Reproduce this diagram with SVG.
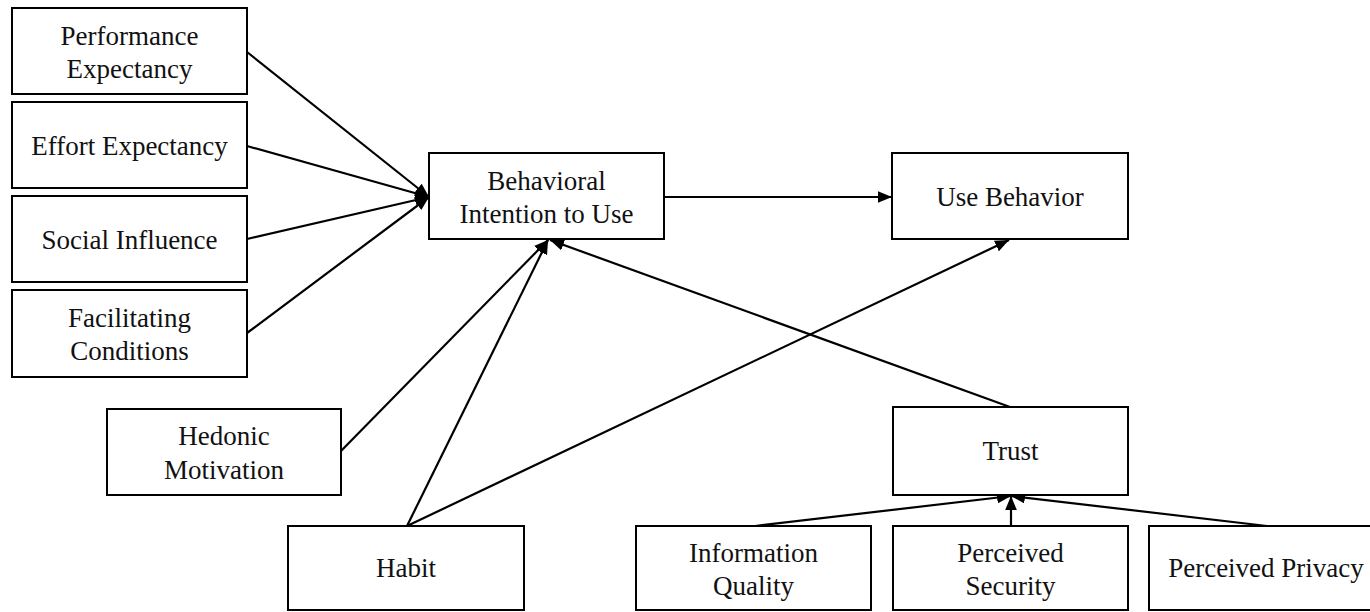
<svg xmlns="http://www.w3.org/2000/svg" width="1370" height="612" viewBox="0 0 1370 612">
<style>
.box{fill:#fff;stroke:#000;stroke-width:2}
.t{font-family:"Liberation Serif","Times New Roman",serif;font-size:27px;fill:#111;text-anchor:middle}
.c{stroke:#000;stroke-width:2.2;fill:none;marker-end:url(#ah)}
</style>
<defs>
<marker id="ah" markerUnits="userSpaceOnUse" markerWidth="14" markerHeight="12" refX="12" refY="5" orient="auto" viewBox="0 0 12 10">
<path d="M0,0 L12,5 L0,10 Z" fill="#000"/>
</marker>
</defs>
<rect width="1370" height="612" fill="#fff"/>
<g id="connectors">
<line class="c" x1="247" y1="52" x2="429" y2="197"/>
<line class="c" x1="247" y1="146" x2="429" y2="197"/>
<line class="c" x1="247" y1="239" x2="429" y2="197"/>
<line class="c" x1="247" y1="333" x2="429" y2="197"/>
<line class="c" x1="341" y1="451" x2="548" y2="240"/>
<line class="c" x1="407" y1="526" x2="548" y2="240"/>
<line class="c" x1="407" y1="526" x2="1009" y2="240"/>
<line class="c" x1="1010" y1="407" x2="550" y2="240"/>
<line class="c" x1="664" y1="197" x2="892" y2="197"/>
<line class="c" x1="755" y1="526" x2="1011" y2="496"/>
<line class="c" x1="1011" y1="526" x2="1011" y2="496"/>
<line class="c" x1="1267" y1="526" x2="1011" y2="496"/>
</g>
<g id="pe"><rect class="box" x="12" y="8" width="235" height="86"/><text class="t" x="129.5" y="45">Performance</text><text class="t" x="129.5" y="78">Expectancy</text></g>
<g id="ee"><rect class="box" x="12" y="102" width="235" height="86"/><text class="t" x="129.5" y="155">Effort Expectancy</text></g>
<g id="si"><rect class="box" x="12" y="196" width="235" height="86"/><text class="t" x="129.5" y="249">Social Influence</text></g>
<g id="fc"><rect class="box" x="12" y="290" width="235" height="87"/><text class="t" x="129.5" y="327">Facilitating</text><text class="t" x="129.5" y="360">Conditions</text></g>
<g id="hm"><rect class="box" x="107" y="409" width="234" height="86"/><text class="t" x="224" y="445">Hedonic</text><text class="t" x="224" y="479">Motivation</text></g>
<g id="habit"><rect class="box" x="288" y="526" width="236" height="84"/><text class="t" x="406" y="577">Habit</text></g>
<g id="bi"><rect class="box" x="429" y="153" width="235" height="86"/><text class="t" x="546.5" y="190">Behavioral</text><text class="t" x="546.5" y="223">Intention to Use</text></g>
<g id="ub"><rect class="box" x="892" y="153" width="236" height="86"/><text class="t" x="1010" y="206">Use Behavior</text></g>
<g id="trust"><rect class="box" x="893" y="407" width="235" height="88"/><text class="t" x="1010.5" y="460">Trust</text></g>
<g id="iq"><rect class="box" x="636" y="526" width="235" height="84"/><text class="t" x="753.5" y="562">Information</text><text class="t" x="753.5" y="595">Quality</text></g>
<g id="ps"><rect class="box" x="893" y="526" width="235" height="84"/><text class="t" x="1010.5" y="562">Perceived</text><text class="t" x="1010.5" y="595">Security</text></g>
<g id="pp"><rect class="box" x="1149" y="526" width="236" height="84"/><text class="t" x="1266" y="577">Perceived Privacy</text></g>
</svg>
